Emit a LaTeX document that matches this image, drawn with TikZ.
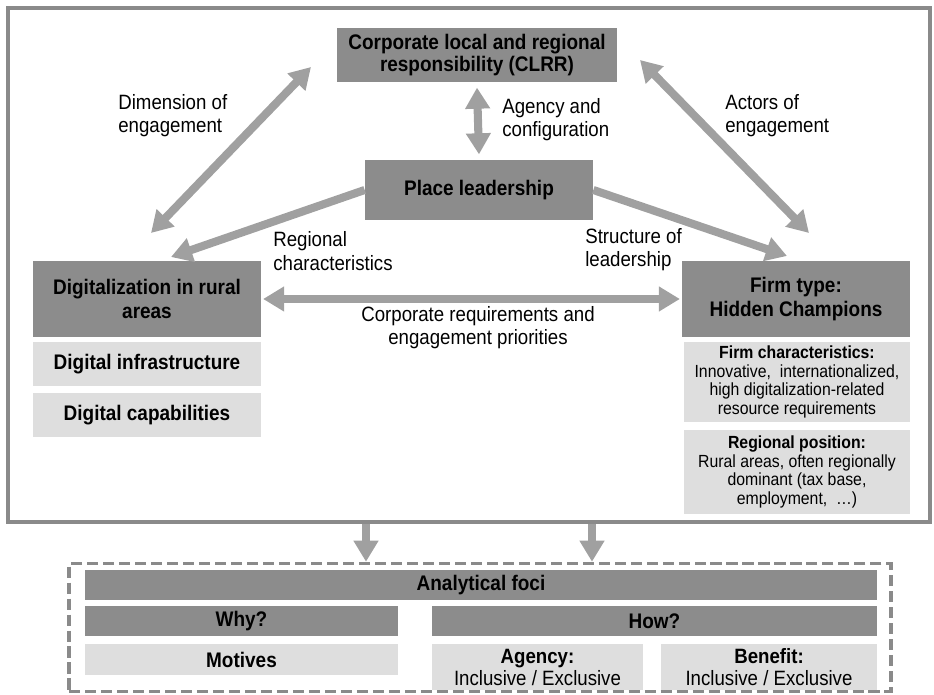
\documentclass[tikz,border=0pt]{standalone}
\usepackage{fontspec}
\setmainfont{Liberation Sans}[FakeStretch=0.9]
\usetikzlibrary{arrows.meta}
\definecolor{boxdark}{RGB}{140,140,140}
\definecolor{boxlight}{RGB}{222,222,222}
\definecolor{arrowgray}{RGB}{160,160,160}
\definecolor{framegray}{RGB}{138,138,138}

\tikzset{
  darkbox/.style={rectangle, fill=boxdark, align=center, inner sep=2pt,
    font=\fontsize{12}{12.8}\selectfont\bfseries},
  lightbox/.style={rectangle, fill=boxlight, align=center, inner sep=2pt,
    font=\fontsize{12}{12.8}\selectfont\bfseries},
  infobox/.style={rectangle, fill=boxlight, align=center, inner sep=2pt,
    font=\fontsize{10}{10.7}\selectfont},
  lbl/.style={align=left, inner sep=0pt, font=\fontsize{11.8}{13.2}\selectfont},
  fat/.style={draw=arrowgray, line width=4.6pt,
    -{Triangle[length=12pt,width=13.5pt]}},
  fatboth/.style={fat, {Triangle[length=12pt,width=13.5pt]}-{Triangle[length=12pt,width=13.5pt]}}
}

\begin{document}
\begin{tikzpicture}[x=0.02cm, y=-0.02cm]
\useasboundingbox (0,0) rectangle (934,695);

% Upper frame
\draw[framegray, line width=1.8pt] (8,8) rectangle (930,522);

% Main boxes
\node[darkbox, minimum width=5.6cm, minimum height=1.08cm] (clrr) at (477,55)
    {Corporate local and regional\\responsibility (CLRR)};
\node[darkbox, minimum width=4.56cm, minimum height=1.2cm] (place) at (479,190)
    {Place leadership};
\node[darkbox, minimum width=4.56cm, minimum height=1.52cm,
    font=\fontsize{12}{13.2}\selectfont\bfseries] (digi) at (147,299)
    {Digitalization in rural\\areas};
\node[darkbox, minimum width=4.56cm, minimum height=1.52cm,
    font=\fontsize{12}{13.2}\selectfont\bfseries] (firm) at (796,299)
    {Firm type:\\Hidden Champions};

% Sub boxes left
\node[lightbox, minimum width=4.56cm, minimum height=0.88cm] (infra) at (147,364)
    {Digital infrastructure};
\node[lightbox, minimum width=4.56cm, minimum height=0.88cm] (capab) at (147,415)
    {Digital capabilities};

% Sub boxes right
\node[infobox, minimum width=4.52cm, minimum height=1.62cm] (fchar) at (797,382)
    {\textbf{Firm characteristics:}\\Innovative,\ \ internationalized,\\high digitalization-related\\resource requirements};
\node[infobox, minimum width=4.52cm, minimum height=1.68cm] (rpos) at (797,472)
    {\textbf{Regional position:}\\Rural areas, often regionally\\dominant (tax base,\\employment,\ \ \dots)};

% Free arrow ends
\coordinate (dimtop) at (311,67);
\coordinate (dimbot) at (151,233);
\coordinate (acttop) at (640,60);
\coordinate (actbot) at (809,233);
\coordinate (regtip) at (171,257);
\coordinate (strtip) at (787,256);

% Arrows
\draw[fatboth] ([yshift=-3pt]clrr.south) -- ([yshift=3pt]place.north);
\draw[fatboth] (dimtop) -- (dimbot);
\draw[fatboth] (acttop) -- (actbot);
\draw[fat] (place.west) -- (regtip);
\draw[fat] (place.east) -- (strtip);
\draw[fatboth] ([xshift=1pt]digi.east) -- ([xshift=-1pt]firm.west);

% Arrow labels
\node[lbl, anchor=west] (dimlbl) at (118,116) {Dimension of\\engagement};
\node[lbl, anchor=west] (agclbl) at (502,120) {Agency and\\configuration};
\node[lbl, anchor=west] (actlbl) at (725,116) {Actors of\\engagement};
\node[lbl, anchor=west] (reglbl) at (273,251) {Regional\\characteristics};
\node[lbl, anchor=west] (strlbl) at (585,250) {Structure of\\leadership};
\node[lbl, align=center] (reqlbl) at (478,328) {Corporate requirements and\\engagement priorities};

% Lower part: analytical foci
\node[draw=framegray, line width=2pt, dash pattern=on 6.3pt off 2.8pt,
    minimum width=16.44cm, minimum height=2.56cm] (focibox) at (480,627.5) {};

\coordinate (down1) at (366,524);
\coordinate (down2) at (592,524);
\draw[fat] (down1) -- (down1 |- focibox.north);
\draw[fat] (down2) -- (down2 |- focibox.north);

\node[darkbox, minimum width=15.84cm, minimum height=0.6cm] (foci) at (481,585)
    {Analytical foci};
\node[darkbox, minimum width=6.26cm, minimum height=0.6cm] (why) at (241.5,621)
    {Why?};
\node[darkbox, minimum width=8.9cm, minimum height=0.6cm] (how) at (654.5,621)
    {How?};
\node[lightbox, minimum width=6.26cm, minimum height=0.62cm] (motives) at (241.5,659.5)
    {Motives};
\node[lightbox, minimum width=4.22cm, minimum height=0.92cm,
    font=\fontsize{11.8}{12.5}\selectfont\bfseries] (agency) at (537.5,667)
    {Agency:\\\mdseries Inclusive / Exclusive};
\node[lightbox, minimum width=4.32cm, minimum height=0.92cm,
    font=\fontsize{11.8}{12.5}\selectfont\bfseries] (benefit) at (769,667)
    {Benefit:\\\mdseries Inclusive / Exclusive};
\end{tikzpicture}
\end{document}
